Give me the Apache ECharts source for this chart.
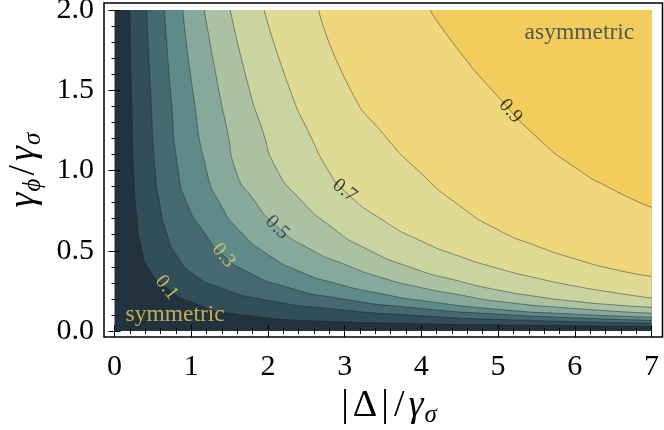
<!DOCTYPE html>
<html>
<head>
<meta charset="utf-8">
<script src="https://cdn.jsdelivr.net/npm/echarts@6/dist/echarts.min.js"></script>
<style>
html, body { margin: 0; padding: 0; background: #fff; }
#chart { width: 664px; height: 430px; }
</style>
</head>
<body>
<div id="chart"></div>
<script>
// contour levels and the points of each contour line ([x, y])
var levels = ['0.1', '0.2', '0.3', '0.4', '0.5', '0.6', '0.7', '0.8', '0.9'];
var contour01 = [[0.20, 2.0], [0.22, 1.5], [0.25, 1.0], [0.29, 0.72], [0.35, 0.52], [0.45, 0.385], [0.68, 0.27], [1.0, 0.18], [1.6, 0.105], [2.8, 0.06], [4.0, 0.045], [5.0, 0.038], [7.0, 0.028]];
var contour02 = [[0.42, 2.0], [0.47, 1.5], [0.53, 1.0], [0.59, 0.79], [0.68, 0.61], [0.81, 0.47], [1.03, 0.355], [1.38, 0.27], [1.90, 0.20], [2.9, 0.135], [4.0, 0.095], [5.0, 0.072], [7.0, 0.049]];
var contour03 = [[0.65, 2.0], [0.73, 1.5], [0.83, 1.0], [0.95, 0.79], [1.16, 0.62], [1.42, 0.47], [1.75, 0.365], [2.2, 0.28], [2.9, 0.205], [4.0, 0.14], [5.0, 0.105], [6.0, 0.082], [7.0, 0.066]];
var contour04 = [[0.89, 2.0], [1.02, 1.5], [1.20, 1.0], [1.38, 0.79], [1.64, 0.62], [1.99, 0.48], [2.42, 0.37], [2.9, 0.295], [3.5, 0.23], [4.0, 0.19], [5.0, 0.135], [6.0, 0.105], [7.0, 0.086]];
var contour05 = [[1.17, 2.0], [1.36, 1.5], [1.47, 1.25], [1.58, 1.0], [1.81, 0.82], [2.12, 0.65], [2.55, 0.51], [3.0, 0.415], [3.5, 0.33], [4.0, 0.27], [4.5, 0.225], [5.0, 0.185], [6.0, 0.14], [7.0, 0.111]];
var contour06 = [[1.51, 2.0], [1.76, 1.5], [1.93, 1.25], [2.1, 1.02], [2.4, 0.83], [2.85, 0.64], [3.25, 0.52], [3.9, 0.39], [4.5, 0.31], [5.0, 0.255], [5.5, 0.215], [6.0, 0.185], [6.5, 0.163], [7.0, 0.148]];
var contour07 = [[1.95, 2.0], [2.29, 1.5], [2.55, 1.22], [2.8, 0.99], [3.0, 0.87], [3.5, 0.69], [4.0, 0.56], [4.5, 0.465], [5.0, 0.39], [5.5, 0.33], [6.0, 0.28], [6.5, 0.24], [7.0, 0.205]];
var contour08 = [[2.66, 2.0], [3.08, 1.5], [3.5, 1.23], [4.0, 0.98], [4.5, 0.78], [5.0, 0.63], [5.5, 0.53], [6.0, 0.45], [6.5, 0.385], [7.0, 0.34]];
var contour09 = [[4.11, 2.0], [4.5, 1.74], [5.0, 1.46], [5.5, 1.21], [6.0, 1.02], [6.5, 0.88], [7.0, 0.77]];

// labels on the contours
var contourLabels = ['0.1', '0.3', '0.5', '0.7', '0.9'];
var contourLabelPoints = [[0.68, 0.27], [1.42, 0.47], [2.12, 0.645], [3.0, 0.875], [5.16, 1.37]];

// region names
var regionNames = ['symmetric', 'asymmetric'];
var regionPoints = [[0.79, 0.10], [6.06, 1.86]];

// tick labels
var xTickLabels = ['0', '1', '2', '3', '4', '5', '6', '7'];
var yTickLabels = ['0.0', '0.5', '1.0', '1.5', '2.0'];

var contours = [contour01, contour02, contour03, contour04, contour05, contour06, contour07, contour08, contour09];
var lowColor = '#22333f';
var bandColors = ['#324e58', '#456a72', '#5f8a8a', '#87a99b', '#aac2a2', '#cad4a0', '#e0da95', '#f1d77b', '#f2cc5c'];
var labelRotate = [-52, -50, -45, -38, -50];
var labelColors = ['#ecd062', '#ecd062', '#22333f', '#111', '#111'];
var regionColors = ['#edcb5c', '#2a3b4a'];
var serif = 'Liberation Serif';

var chart = echarts.init(document.getElementById('chart'));

var series = contours.map(function (pts, i) {
    return {
        type: 'line',
        name: levels[i],
        xAxisIndex: 0,
        yAxisIndex: 0,
        data: pts,
        smooth: 0.65,
        symbol: 'none',
        clip: true,
        silent: true,
        lineStyle: { color: 'rgba(30,30,30,0.5)', width: 0.9 },
        areaStyle: { origin: 'end', color: bandColors[i], opacity: 1 }
    };
});

series.push({
    type: 'scatter',
    xAxisIndex: 0,
    yAxisIndex: 0,
    symbolSize: 1,
    itemStyle: { color: 'transparent' },
    z: 10,
    data: contourLabels.map(function (t, i) {
        return { value: contourLabelPoints[i], name: t, label: { rotate: labelRotate[i], color: labelColors[i] } };
    }),
    label: { show: true, position: 'inside', formatter: '{b}', fontFamily: serif, fontSize: 20 }
});

series.push({
    type: 'scatter',
    xAxisIndex: 0,
    yAxisIndex: 0,
    symbolSize: 1,
    itemStyle: { color: 'transparent' },
    z: 10,
    data: regionNames.map(function (t, i) {
        return { value: regionPoints[i], name: t, label: { color: regionColors[i] } };
    }),
    label: { show: true, position: 'inside', formatter: '{b}', fontFamily: serif, fontSize: 23.5 }
});

var tickStyle = { inside: true, length: 6, lineStyle: { color: '#000', width: 1 } };
var minorStyle = { show: true, splitNumber: 5, length: 3, lineStyle: { color: '#000', width: 1 } };
var nameStyle = {
    fontFamily: serif,
    fontSize: 38,
    color: '#000',
    rich: {
        p: { fontFamily: serif, fontSize: 38, lineHeight: 44, color: '#000', padding: [0, 2, 0, 12] },
        a: { fontFamily: serif, fontSize: 38, lineHeight: 44, color: '#000', padding: [0, 3, 0, 3] },
        d: { fontFamily: serif, fontSize: 38, lineHeight: 44, color: '#000', padding: [0, 2, 0, 2] },
        g: { fontFamily: serif, fontSize: 38, lineHeight: 44, fontStyle: 'italic', color: '#000', padding: [0, 1, 0, 1] },
        s: { fontFamily: serif, fontSize: 25, lineHeight: 24, fontStyle: 'italic', verticalAlign: 'bottom', color: '#000' }
    }
};

var option = {
    animation: false,
    backgroundColor: '#fff',
    grid: [
        { left: 114.5, right: 12.5, top: 10, bottom: 99, outerBoundsMode: 'none', show: true, backgroundColor: lowColor, borderWidth: 0 },
        { left: 104, right: 1.5, top: 3, bottom: 93, outerBoundsMode: 'none', show: true, backgroundColor: 'transparent', borderColor: '#000', borderWidth: 1.5 }
    ],
    xAxis: [
        {
            type: 'value', gridIndex: 0, min: 0, max: 7, interval: 1, position: 'bottom', offset: 6,
            axisLine: { show: false }, axisTick: tickStyle, minorTick: minorStyle,
            splitLine: { show: false },
            axisLabel: {
                fontFamily: serif, fontSize: 30, color: '#000', margin: 15,
                formatter: function (v) { return xTickLabels[Math.round(v)]; }
            },
            name: '{p||}{d|Δ}{d||}{a|/}{g|γ}{s|σ}', nameLocation: 'middle', nameGap: 46, nameTextStyle: nameStyle
        },
        {
            type: 'value', gridIndex: 0, min: 0, max: 7, interval: 1, position: 'top', offset: 7,
            axisLine: { show: false }, axisTick: tickStyle, minorTick: minorStyle,
            splitLine: { show: false }, axisLabel: { show: false }
        },
        { type: 'value', gridIndex: 1, show: false }
    ],
    yAxis: [
        {
            type: 'value', gridIndex: 0, min: 0, max: 2, interval: 0.5, position: 'left', offset: 10.5,
            axisLine: { show: false }, axisTick: tickStyle, minorTick: minorStyle,
            splitLine: { show: false },
            axisLabel: {
                fontFamily: serif, fontSize: 30, color: '#000', margin: 10, padding: [5, 0, 0, 0],
                formatter: function (v) { return yTickLabels[Math.round(v / 0.5)]; }
            },
            name: '{g|γ}{s|ϕ}{a|/}{g|γ}{s|σ}', nameLocation: 'middle', nameRotate: 90, nameGap: 54, nameTextStyle: nameStyle
        },
        {
            type: 'value', gridIndex: 0, min: 0, max: 2, interval: 0.5, position: 'right', offset: 11,
            axisLine: { show: false }, axisTick: tickStyle, minorTick: minorStyle,
            splitLine: { show: false }, axisLabel: { show: false }
        },
        { type: 'value', gridIndex: 1, show: false }
    ],
    series: series
};

chart.setOption(option);
</script>
</body>
</html>
